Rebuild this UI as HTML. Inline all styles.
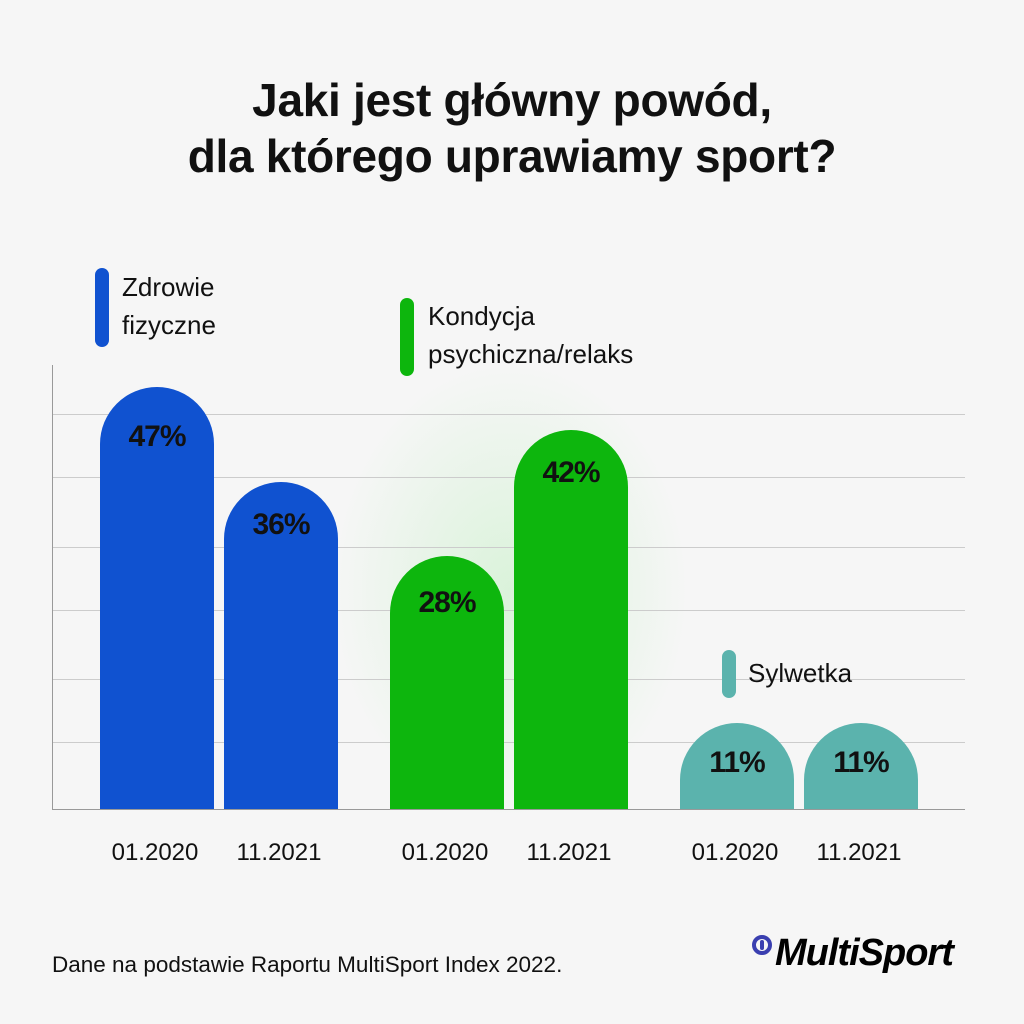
<!DOCTYPE html>
<html><head><meta charset="utf-8"><style>
body{margin:0;width:1024px;height:1024px;background:#f6f6f6;font-family:"Liberation Sans","DejaVu Sans",sans-serif;position:relative;overflow:hidden}
.a{position:absolute}
.t{left:0;width:1024px;text-align:center;font-weight:bold;font-size:46px;color:#111;line-height:56px;top:72px;letter-spacing:-0.3px}
.g{left:53px;width:912px;height:1px;background:#ccc}
.bar{width:114px;border-radius:57px 57px 0 0;bottom:215px}
.v{width:114px;text-align:center;font-weight:bold;font-size:30px;color:#111;letter-spacing:-1px}
.x{font-size:24px;color:#111;width:130px;text-align:center;top:839px}
.lg{font-size:26px;color:#111;line-height:38px}
.p{width:14px;border-radius:7px}
</style></head><body>
<div class="a t">Jaki jest główny powód,<br>dla którego uprawiamy sport?</div>
<div class="a" style="left:330px;top:360px;width:360px;height:460px;background:radial-gradient(ellipse at center,rgba(120,230,120,0.22),rgba(246,246,246,0) 70%)"></div>
<div class="a" style="left:52px;top:365px;width:1px;height:445px;background:#999"></div>
<div class="a" style="left:52px;top:809px;width:913px;height:1px;background:#999"></div>
<div class="a g" style="top:414px"></div>
<div class="a g" style="top:477px"></div>
<div class="a g" style="top:547px"></div>
<div class="a g" style="top:610px"></div>
<div class="a g" style="top:679px"></div>
<div class="a g" style="top:742px"></div>
<div class="a bar" style="left:100px;top:387px;background:#1052d0"></div>
<div class="a bar" style="left:224px;top:482px;background:#1052d0"></div>
<div class="a bar" style="left:390px;top:556px;background:#0db60d"></div>
<div class="a bar" style="left:514px;top:430px;background:#0db60d"></div>
<div class="a bar" style="left:680px;top:723px;background:#5bb3ad"></div>
<div class="a bar" style="left:804px;top:723px;background:#5bb3ad"></div>
<div class="a v" style="left:100px;top:420px">47%</div>
<div class="a v" style="left:224px;top:508px">36%</div>
<div class="a v" style="left:390px;top:586px">28%</div>
<div class="a v" style="left:514px;top:456px">42%</div>
<div class="a v" style="left:680px;top:746px">11%</div>
<div class="a v" style="left:804px;top:746px">11%</div>
<div class="a x" style="left:90px">01.2020</div>
<div class="a x" style="left:214px">11.2021</div>
<div class="a x" style="left:380px">01.2020</div>
<div class="a x" style="left:504px">11.2021</div>
<div class="a x" style="left:670px">01.2020</div>
<div class="a x" style="left:794px">11.2021</div>
<div class="a p" style="left:95px;top:268px;height:79px;background:#1052d0"></div>
<div class="a lg" style="left:122px;top:268px">Zdrowie<br>fizyczne</div>
<div class="a p" style="left:400px;top:298px;height:78px;background:#0db60d"></div>
<div class="a lg" style="left:428px;top:297px">Kondycja<br>psychiczna/relaks</div>
<div class="a p" style="left:722px;top:650px;height:48px;background:#5bb3ad"></div>
<div class="a lg" style="left:748px;top:654px">Sylwetka</div>
<div class="a" style="left:52px;top:952px;font-size:22.5px;color:#111">Dane na podstawie Raportu MultiSport Index 2022.</div>
<div class="a" style="left:752px;top:935px;width:20px;height:20px;border:4px solid #3a3fb0;border-radius:50%;box-sizing:border-box"></div>
<div class="a" style="left:760px;top:940px;width:4px;height:10px;background:#3a3fb0;border-radius:2px"></div>
<div class="a" style="left:775px;top:932px;font-size:38px;font-weight:bold;font-style:italic;color:#000;letter-spacing:-1px">MultiSport</div>
</body></html>
